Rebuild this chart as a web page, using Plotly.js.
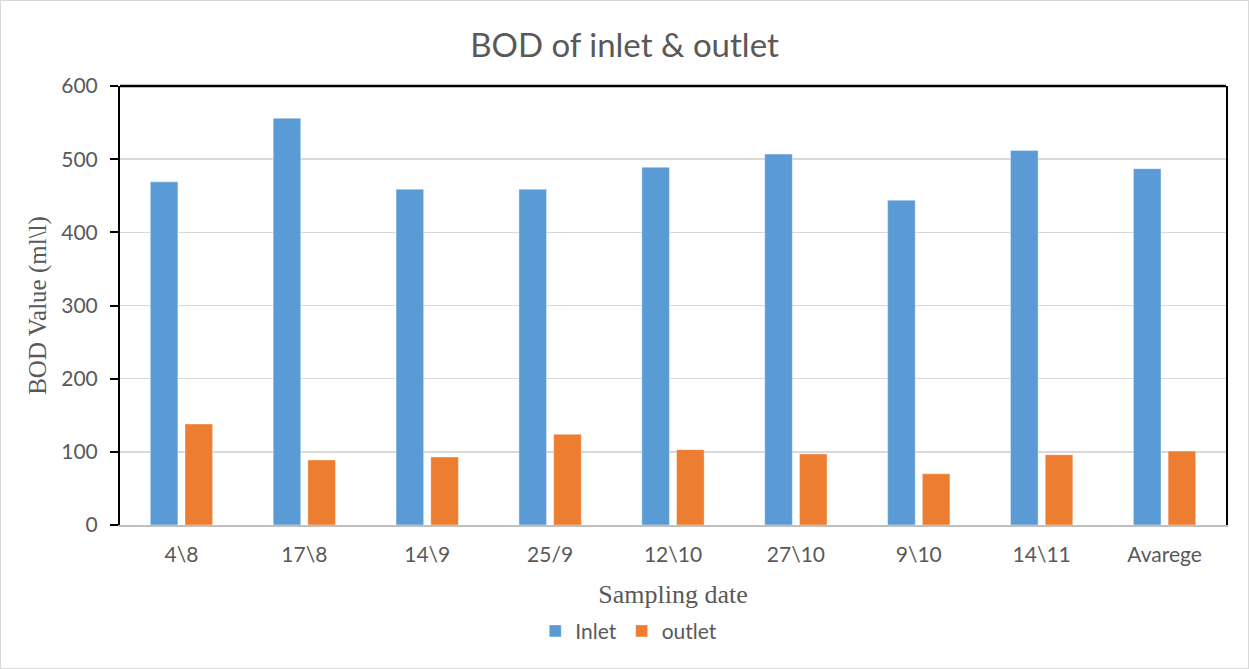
<!DOCTYPE html>
<html>
<head>
<meta charset="utf-8">
<script src="https://cdn.plot.ly/plotly-3.0.1.min.js"></script>
<style>
html,body{margin:0;padding:0;background:#fff;}
#chart{width:1249px;height:669px;box-sizing:border-box;border:1px solid #d9d9d9;}
</style>
</head>
<body>
<div id="chart"></div>
<script>
const categories = ["4\\8", "17\\8", "14\\9", "25/9", "12\\10", "27\\10", "9\\10", "14\\11", "Avarege"];
const inletValues = [469, 556, 459, 459, 489, 507, 444, 512, 487];
const outletValues = [138, 89, 93, 124, 103, 97, 70, 96, 101];
const seriesNames = ["Inlet", "outlet"];
const yTicks = [0, 100, 200, 300, 400, 500, 600];

const traces = [
  {type: "bar", name: seriesNames[0], x: categories, y: inletValues,
   marker: {color: "#5b9bd5", line: {color: "#ffffff", width: 0.4}}},
  {type: "bar", name: seriesNames[1], x: categories, y: outletValues,
   marker: {color: "#ed7d31", line: {color: "#ffffff", width: 0.4}}}
];

const layout = {
  width: 1247, height: 667,
  margin: {l: 119, r: 22, t: 85, b: 143},
  paper_bgcolor: "#ffffff", plot_bgcolor: "#ffffff",
  barmode: "group", bargap: 0.435, bargroupgap: 0.205,
  title: {text: "BOD of inlet & outlet", x: 0.5, xanchor: "center", y: 0.933, yanchor: "middle",
          font: {family: "Lato, 'Open Sans', sans-serif", size: 33, color: "#595959"}},
  font: {family: "Lato, 'Open Sans', sans-serif", color: "#595959"},
  xaxis: {
    type: "category", tickfont: {size: 21, color: "#595959"},
    showline: true, linecolor: "#bfbfbf", linewidth: 2,
    ticks: "", showgrid: false, ticklabelstandoff: 10,
    title: {text: "Sampling date", standoff: 20,
            font: {family: "'Liberation Serif', 'Times New Roman', serif", size: 26, color: "#595959"}}
  },
  yaxis: {
    range: [0, 600], tickvals: yTicks, ticktext: yTicks.map(String),
    tickfont: {size: 21, color: "#595959"},
    showline: true, linecolor: "#000000", linewidth: 2, mirror: true,
    ticks: "outside", ticklen: 8, tickcolor: "#000000", tickwidth: 2,
    ticklabelstandoff: 8,
    showgrid: true, gridcolor: "#d9d9d9", gridwidth: 1.5, zeroline: false,
    title: {text: "BOD Value (ml\\l)", standoff: 8,
            font: {family: "'Liberation Serif', 'Times New Roman', serif", size: 25, color: "#595959"}}
  },
  shapes: [
    {type: "line", xref: "paper", yref: "paper", x0: 0, x1: 1, y0: 1, y1: 1,
     line: {color: "#000000", width: 2.5}}
  ],
  legend: {orientation: "h", x: 0.46, xanchor: "center", y: -0.242, yanchor: "middle",
           font: {size: 21, color: "#595959"}, traceorder: "normal", itemwidth: 30},
  showlegend: true
};

Plotly.newPlot("chart", traces, layout, {displayModeBar: false, staticPlot: true});
</script>
</body>
</html>
